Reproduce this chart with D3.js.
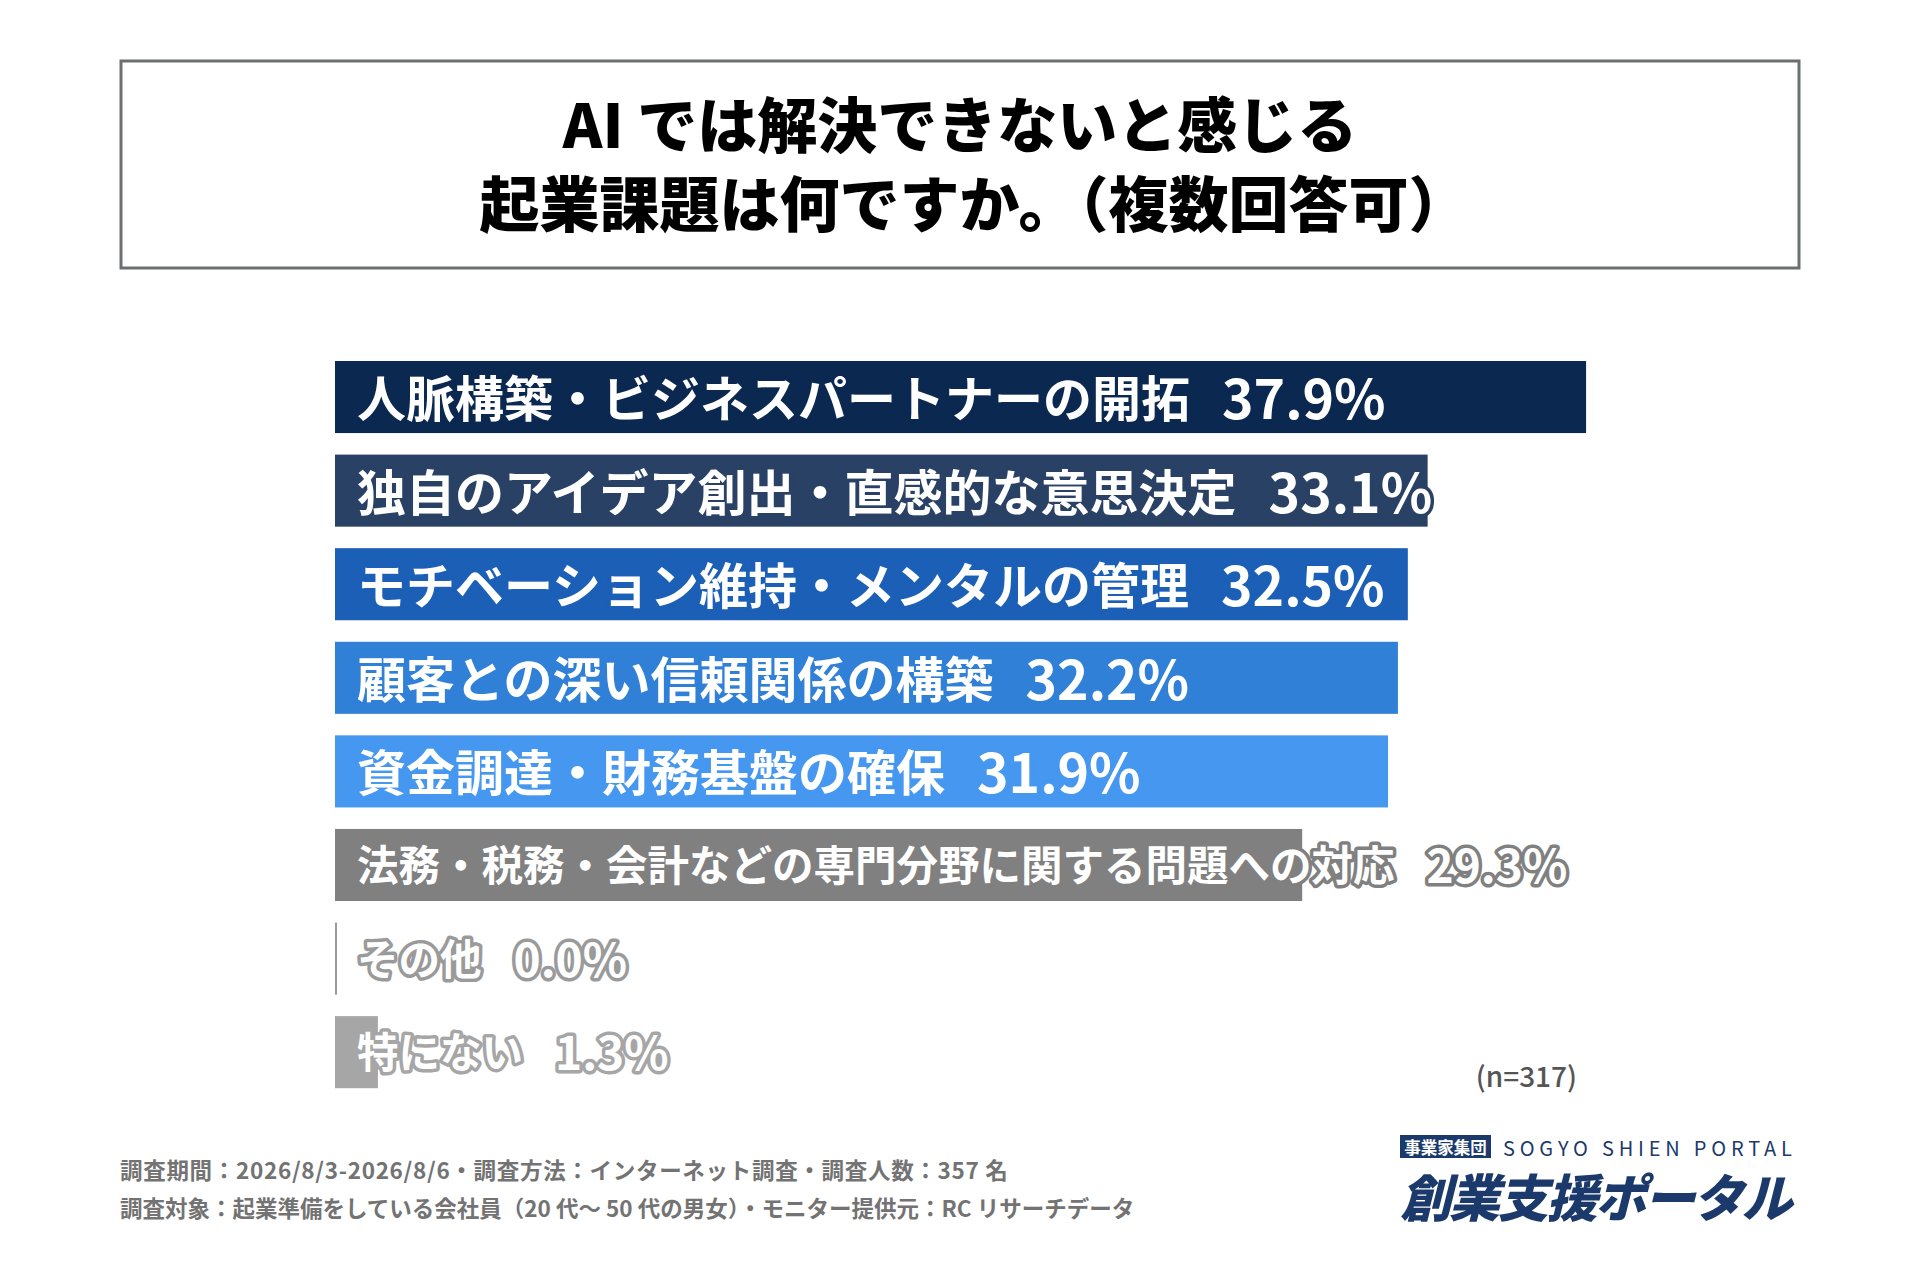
<!DOCTYPE html>
<html><head><meta charset="utf-8">
<script src="https://cdn.jsdelivr.net/npm/d3@7"></script>
<style>
html,body{margin:0;padding:0;background:#fff;}
svg{display:block;}
text{font-family:"Noto Sans CJK JP","Noto Sans",sans-serif;}
</style></head>
<body>
<svg id="chart" width="1920" height="1280"></svg>
<script>
const titleLines = ["AI では解決できないと感じる", "起業課題は何ですか。（複数回答可）"];
const categories = [
  "人脈構築・ビジネスパートナーの開拓",
  "独自のアイデア創出・直感的な意思決定",
  "モチベーション維持・メンタルの管理",
  "顧客との深い信頼関係の構築",
  "資金調達・財務基盤の確保",
  "法務・税務・会計などの専門分野に関する問題への対応",
  "その他",
  "特にない"
];
const values = [37.9, 33.1, 32.5, 32.2, 31.9, 29.3, 0.0, 1.3];
const barColors = ["#0b2850", "#2a4166", "#1b5fb6", "#3080d8", "#4597f0", "#808080", "#9a9a9a", "#a6a6a6"];
const sampleNote = "(n=317)";
const footnotes = [
  "調査期間：2026/8/3-2026/8/6・調査方法：インターネット調査・調査人数：357 名",
  "調査対象：起業準備をしている会社員（20 代～ 50 代の男女）・モニター提供元：RC リサーチデータ"
];
const logoTag = "事業家集団";
const logoSub = "SOGYO SHIEN PORTAL";
const logoMain = "創業支援ポータル";

const svg = d3.select("#chart");
svg.append("rect").attr("width", 1920).attr("height", 1280).attr("fill", "#fff");

// title box
svg.append("rect").attr("x", 121).attr("y", 61).attr("width", 1678).attr("height", 207)
  .attr("fill", "none").attr("stroke", "#6b6f70").attr("stroke-width", 3);
svg.selectAll(".title").data(titleLines).join("text")
  .attr("class", "title")
  .attr("x", (d, i) => i === 0 ? 960 : 974).attr("y", (d, i) => 121 + i * 79)
  .attr("text-anchor", "middle").attr("dominant-baseline", "central")
  .attr("font-size", 60).attr("font-weight", 900).attr("fill", "#000")
  .text(d => d);

const data = categories.map((c, i) => ({ c, v: values[i], color: barColors[i], i }));

const x = d3.scaleLinear().domain([0, 40]).range([335, 335 + 40 * 33.01]);
const y = d3.scaleBand().domain(categories).range([361, 1088.2]).paddingInner(0.23).paddingOuter(0);

svg.selectAll(".bar").data(data).join("rect")
  .attr("class", "bar")
  .attr("x", x(0))
  .attr("y", d => y(d.c))
  .attr("width", d => Math.max(2, x(d.v) - x(0)))
  .attr("height", y.bandwidth())
  .attr("fill", d => d.color);

const labels = svg.selectAll(".lab").data(data).join("text")
  .attr("class", "lab")
  .attr("x", x(0) + 22)
  .attr("y", d => y(d.c) + y.bandwidth() / 2 - 2)
  .attr("dominant-baseline", "central")
  .attr("font-weight", 700)
  .attr("fill", "#fff")
  .attr("stroke", d => d.color)
  .attr("stroke-width", 7)
  .attr("stroke-linejoin", "round")
  .attr("paint-order", "stroke");
labels.append("tspan")
  .attr("font-size", d => d.i >= 5 ? 41.5 : 49)
  .text(d => d.c);
labels.append("tspan")
  .attr("dx", 32)
  .attr("font-size", d => d.i >= 5 ? 46 : 53.5)
  .text(d => d.v.toFixed(1) + "%");

// n note
svg.append("text").attr("x", 1577).attr("y", 1075).attr("text-anchor", "end")
  .attr("dominant-baseline", "central").attr("font-size", 28).attr("font-weight", 500)
  .attr("fill", "#555").text(sampleNote);

// footnotes
svg.selectAll(".foot").data(footnotes).join("text")
  .attr("class", "foot")
  .attr("x", 120).attr("y", (d, i) => 1169 + i * 38)
  .attr("dominant-baseline", "central")
  .attr("font-size", 22.5).attr("font-weight", 700).attr("fill", "#737373")
  .attr("letter-spacing", (d, i) => i === 0 ? 0.7 : 0)
  .text(d => d);

// logo
const navy = "#1b3a6b";
svg.append("rect").attr("x", 1400).attr("y", 1135).attr("width", 91).attr("height", 23).attr("fill", navy);
svg.append("text").attr("x", 1445.5).attr("y", 1146.5).attr("text-anchor", "middle")
  .attr("dominant-baseline", "central").attr("font-size", 16.5).attr("font-weight", 700)
  .attr("fill", "#fff").text(logoTag);
svg.append("text").attr("x", 1503).attr("y", 1147).attr("dominant-baseline", "central")
  .attr("font-family", "Roboto, sans-serif").attr("font-size", 20).attr("font-weight", 400)
  .attr("letter-spacing", 4.8).attr("fill", navy).text(logoSub);
svg.append("text").attr("x", 1400).attr("y", 1195).attr("dominant-baseline", "central")
  .attr("font-size", 51).attr("font-weight", 900).attr("fill", navy)
  .attr("letter-spacing", -2.2)
  .attr("font-style", "italic")
  .text(logoMain);
</script>
</body></html>
